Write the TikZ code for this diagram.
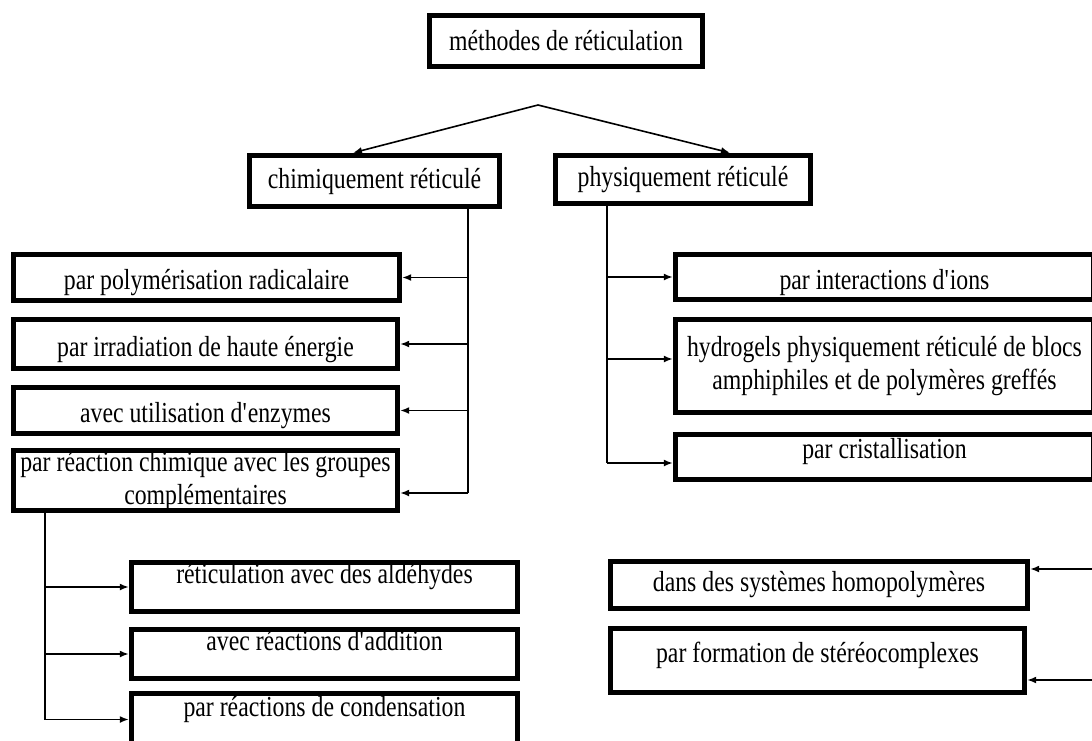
\documentclass[tikz,border=0pt]{standalone}
\usepackage{fontspec}
\setmainfont{Liberation Serif}[FakeStretch=0.82]
\usetikzlibrary{arrows.meta}

\begin{document}
\begin{tikzpicture}[
      x=0.5pt, y=-0.5pt,
      box_node/.style={
         rectangle,
         draw=black,
         line width=2.7pt,
         inner sep=0pt,
         align=center,
         font=\fontsize{14.5pt}{16.5pt}\selectfont},
      text_down/.style={
         text height=15pt,
         text depth=3pt},
      text_up/.style={
         text height=9.8pt,
         text depth=13pt},
      text_up_small/.style={
         text height=9.8pt,
         text depth=8pt},
      arrow_black/.style={
        -{Latex[length=4.5pt,width=3.5pt]},
        line width=0.8pt,
        },
      line_black/.style={
        line width=0.8pt,
        }
]
      \useasboundingbox (0,0) rectangle (1092,740);
      \clip (0,0) rectangle (1092,740);

      %root
      \node[box_node,minimum width=136.5pt,minimum height=25.5pt] (meth) at (566,41) {méthodes de réticulation};

      \node[box_node,minimum width=125pt,minimum height=25.5pt] (chim) at (374.5,181) {chimiquement réticulé};
      \node[box_node,minimum width=127.5pt,minimum height=24pt] (phys) at (683,179.5) {physiquement réticulé};

      %chemical methods
      \node[box_node,text_down,minimum width=193pt,minimum height=23pt] (polyrad) at (206.5,277.5) {par polymérisation radicalaire};
      \node[box_node,text_down,minimum width=192pt,minimum height=24.5pt] (irrad) at (205.5,344) {par irradiation de haute énergie};
      \node[box_node,text_down,minimum width=192pt,minimum height=23pt] (enzym) at (205.5,410.5) {avec utilisation d\textquotesingle enzymes};
      \node[box_node,minimum width=192pt,minimum height=30pt] (groupes) at (205.5,480.5) {par réaction chimique avec les groupes\\ complémentaires};

      \node[box_node,text_up,minimum width=193pt,minimum height=24.5pt] (ald) at (324.5,587) {réticulation avec des aldéhydes};
      \node[box_node,text_up,minimum width=193pt,minimum height=24.5pt] (addit) at (324.5,654) {avec réactions d\textquotesingle addition};
      \node[box_node,text_up,minimum width=193pt,minimum height=26pt] (conden) at (324.5,719.5) {par réactions de condensation};

      %physical methods
      \node[box_node,text_down,minimum width=209pt,minimum height=22.5pt] (ions) at (884.5,277) {par interactions d\textquotesingle ions};
      \node[box_node,minimum width=209pt,minimum height=46.5pt] (hydro) at (884.5,366) {hydrogels physiquement réticulé de blocs\\ amphiphiles et de polymères greffés};
      \node[box_node,text_up_small,minimum width=209pt,minimum height=22.5pt] (crist) at (884.5,457) {par cristallisation};

      \node[box_node,minimum width=208.5pt,minimum height=23.5pt] (homo) at (819,585) {dans des systèmes homopolymères};
      \node[box_node,text_up_small,minimum width=207pt,minimum height=32pt] (stereo) at (817.5,660.5) {par formation de stéréocomplexes};

      %split
      \coordinate (split) at (538,105);
      \draw[arrow_black] (split) -- ([xshift=-10.75pt]chim.north);
      \draw[arrow_black] (split) -- ([xshift=23.5pt]phys.north);

      \coordinate (chim_drop) at ([xshift=46.75pt]chim.south);
      \coordinate (groupes_in) at ([yshift=-6.25pt]groupes.east);
      \draw[line_black] (chim_drop) -- (chim_drop |- groupes_in);
    \foreach \j in {polyrad,irrad,enzym,groupes_in}
      \draw[arrow_black] (chim_drop |- \j) -- (\j);

      \coordinate (phys_drop) at ([xshift=-38pt]phys.south);
      \coordinate (hydro_in) at ([yshift=3.5pt]hydro.west);
      \coordinate (crist_in) at ([yshift=-3pt]crist.west);
      \draw[line_black] (phys_drop) -- (phys_drop |- crist_in);
    \foreach \j in {ions,hydro_in,crist_in}
      \draw[arrow_black] (phys_drop |- \j) -- (\j);

      \coordinate (groupes_drop) at ([xshift=-80.25pt]groupes.south);
      \draw[line_black] (groupes_drop) -- (groupes_drop |- conden);
    \foreach \j in {ald,addit,conden}
      \draw[arrow_black] (groupes_drop |- \j) -- (\j);

      %from the right edge
      \coordinate (homo_src) at (1100,569);
      \coordinate (stereo_src) at (1100,680);
      \draw[arrow_black] (homo_src) -- (homo.east |- homo_src);
      \draw[arrow_black] (stereo_src) -- (stereo.east |- stereo_src);
\end{tikzpicture}
\end{document}
